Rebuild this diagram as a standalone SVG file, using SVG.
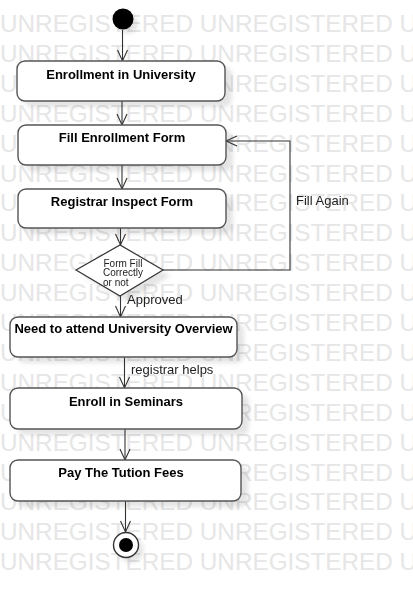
<svg xmlns="http://www.w3.org/2000/svg" width="413" height="598" viewBox="0 0 413 598">
<defs>
<style>
.wm{font-family:"Liberation Sans",Arial,sans-serif;font-size:24.3px;fill:#e6e6e6}
.box{fill:#fff;stroke:#555;stroke-width:1.4}
.shadow{fill:#000;opacity:0.1}
.lbl{font-family:"Liberation Sans",Arial,sans-serif;font-size:13px;font-weight:bold;fill:#000;text-anchor:middle}
.edge{fill:none;stroke:#333;stroke-width:1.1}
.elbl{font-family:"Liberation Sans",Arial,sans-serif;font-size:13px;fill:#222}
.dtxt{font-family:"Liberation Sans",Arial,sans-serif;font-size:10px;fill:#222}
</style>
<marker id="arr" markerUnits="userSpaceOnUse" markerWidth="14" markerHeight="12" refX="11" refY="5" orient="auto" viewBox="-1 -1 14 12"><path d="M0,0 L11,5 L0,10" fill="none" stroke="#333" stroke-width="1.1"/></marker>
<filter id="blur" x="-20%" y="-20%" width="140%" height="140%"><feGaussianBlur stdDeviation="2"/></filter>
</defs>
<rect width="413" height="598" fill="#fff"/>
<g id="watermark">
<text class="wm" x="0" y="32">UNREGISTERED UNREGISTERED U</text>
<text class="wm" x="0" y="61.9">UNREGISTERED UNREGISTERED U</text>
<text class="wm" x="0" y="91.8">UNREGISTERED UNREGISTERED U</text>
<text class="wm" x="0" y="121.7">UNREGISTERED UNREGISTERED U</text>
<text class="wm" x="0" y="151.6">UNREGISTERED UNREGISTERED U</text>
<text class="wm" x="0" y="181.5">UNREGISTERED UNREGISTERED U</text>
<text class="wm" x="0" y="211.4">UNREGISTERED UNREGISTERED U</text>
<text class="wm" x="0" y="241.3">UNREGISTERED UNREGISTERED U</text>
<text class="wm" x="0" y="271.2">UNREGISTERED UNREGISTERED U</text>
<text class="wm" x="0" y="301.1">UNREGISTERED UNREGISTERED U</text>
<text class="wm" x="0" y="331">UNREGISTERED UNREGISTERED U</text>
<text class="wm" x="0" y="360.9">UNREGISTERED UNREGISTERED U</text>
<text class="wm" x="0" y="390.8">UNREGISTERED UNREGISTERED U</text>
<text class="wm" x="0" y="420.7">UNREGISTERED UNREGISTERED U</text>
<text class="wm" x="0" y="450.6">UNREGISTERED UNREGISTERED U</text>
<text class="wm" x="0" y="480.5">UNREGISTERED UNREGISTERED U</text>
<text class="wm" x="0" y="510.4">UNREGISTERED UNREGISTERED U</text>
<text class="wm" x="0" y="540.3">UNREGISTERED UNREGISTERED U</text>
<text class="wm" x="0" y="570.2">UNREGISTERED UNREGISTERED U</text>
</g>
<g id="shadows" filter="url(#blur)">
<circle class="shadow" cx="128" cy="24" r="10"/>
<rect class="shadow" x="24" y="67" width="208" height="40" rx="8"/>
<rect class="shadow" x="25" y="131" width="208" height="40" rx="8"/>
<rect class="shadow" x="25" y="195" width="208" height="39" rx="8"/>
<polygon class="shadow" points="83,276 127,251 170,276 127,302"/>
<rect class="shadow" x="17" y="323" width="227" height="40" rx="8"/>
<rect class="shadow" x="17" y="394" width="232" height="41" rx="8"/>
<rect class="shadow" x="17" y="466" width="231" height="41" rx="8"/>
<circle class="shadow" cx="131" cy="550" r="12.5"/>
</g>
<g id="connectors">
<line class="edge" x1="122.5" y1="30" x2="122.5" y2="61" marker-end="url(#arr)"/>
<line class="edge" x1="122" y1="101" x2="122" y2="125" marker-end="url(#arr)"/>
<line class="edge" x1="122" y1="165" x2="122" y2="189" marker-end="url(#arr)"/>
<line class="edge" x1="120.5" y1="228" x2="120.5" y2="245" marker-end="url(#arr)"/>
<line class="edge" x1="120.5" y1="296" x2="120.5" y2="317" marker-end="url(#arr)"/>
<text class="elbl" x="127" y="304">Approved</text>
<polyline class="edge" points="163,270 290,270 290,141 226,141" marker-end="url(#arr)"/>
<text class="elbl" x="296" y="205">Fill Again</text>
<line class="edge" x1="124.5" y1="357" x2="124.5" y2="388" marker-end="url(#arr)"/>
<text class="elbl" x="131" y="374">registrar helps</text>
<line class="edge" x1="125" y1="429" x2="125" y2="460" marker-end="url(#arr)"/>
<line class="edge" x1="125.5" y1="501" x2="125.5" y2="532" marker-end="url(#arr)"/>
</g>
<g id="start">
<circle cx="123" cy="19" r="10.5" fill="#000"/>
</g>
<g id="enrollment-university">
<rect class="box" x="17" y="61" width="208" height="40" rx="8"/>
<text class="lbl" x="121" y="79">Enrollment in University</text>
</g>
<g id="fill-form">
<rect class="box" x="18" y="125" width="208" height="40" rx="8"/>
<text class="lbl" x="122" y="142">Fill Enrollment Form</text>
</g>
<g id="inspect-form">
<rect class="box" x="18" y="189" width="208" height="39" rx="8"/>
<text class="lbl" x="122" y="206">Registrar Inspect Form</text>
</g>
<g id="decision">
<polygon points="76,270 120,245 163,270 120,296" fill="#fff" stroke="#333" stroke-width="1.2"/>
<text class="dtxt" x="103.5" y="266.5">Form Fill</text>
<text class="dtxt" x="103" y="276">Correctly</text>
<text class="dtxt" x="103" y="285.5">or not</text>
</g>
<g id="university-overview">
<rect class="box" x="10" y="317" width="227" height="40" rx="8"/>
<text class="lbl" x="123.5" y="333">Need to attend University Overview</text>
</g>
<g id="enroll-seminars">
<rect class="box" x="10" y="388" width="232" height="41" rx="8"/>
<text class="lbl" x="126" y="406">Enroll in Seminars</text>
</g>
<g id="pay-fees">
<rect class="box" x="10" y="460" width="231" height="41" rx="8"/>
<text class="lbl" x="121" y="477">Pay The Tution Fees</text>
</g>
<g id="final">
<circle cx="126" cy="545" r="12.5" fill="#fff" stroke="#333" stroke-width="1.4"/>
<circle cx="126" cy="545" r="7" fill="#000"/>
</g>
</svg>
